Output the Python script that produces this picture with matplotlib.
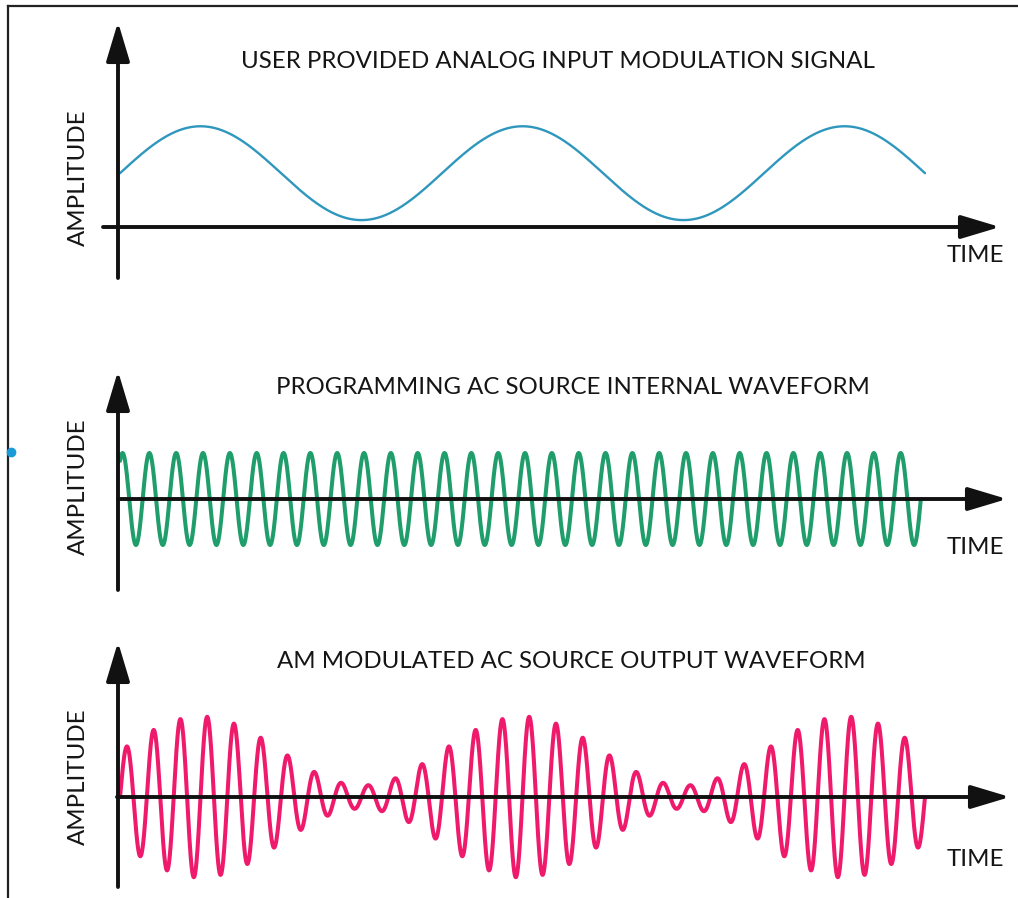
import numpy as np
import matplotlib
matplotlib.use("Agg")
import matplotlib.pyplot as plt
from matplotlib.lines import Line2D

# ---- chart data ----
panel_titles = ["USER PROVIDED ANALOG INPUT MODULATION SIGNAL",
                "PROGRAMMING AC SOURCE INTERNAL WAVEFORM",
                "AM MODULATED AC SOURCE OUTPUT WAVEFORM"]
y_label = "AMPLITUDE"
x_label = "TIME"
line_colors = ["#2f97bd", "#1f9e6c", "#ef1a6c"]

mod_cycles = 2.5          # modulation periods shown
carrier_per_mod = 12      # carrier cycles per modulation period
mod_amplitude = 1.02      # in carrier-amplitude units
mod_offset = 1.17         # DC offset of the modulation signal
carrier_amplitude = 1.0
carrier_phase_deg = 56    # programmed waveform starts near a crest
am_index = 0.75           # modulation depth of the output

# ---- layout (pixels of the 1018x898 picture) ----
W, H = 1018, 898
X0, PX_T, PX_A = 120, 322, 46       # time origin, px per mod period, px per amplitude unit
panels = [
    dict(top=10, bot=290, ax_y=227, hx0=103, hx1=1000, vy1=22, vy0=278, tx=558, ty=61, tl=256, yl=178),
    dict(top=360, bot=600, ax_y=499, hx0=118, hx1=1007, vy1=371, vy0=590, tx=573, ty=387, tl=548, yl=487),
    dict(top=630, bot=896, ax_y=797, hx0=117, hx1=1010, vy1=642, vy0=887, tx=571, ty=662, tl=860, yl=777),
]

plt.rcParams["font.family"] = ["Lato", "DejaVu Sans"]
fig = plt.figure(figsize=(W / 100, H / 100), dpi=100)
fig.patch.set_facecolor("white")

t = np.linspace(0, mod_cycles, 8000)
modulation = mod_offset + mod_amplitude * np.sin(2 * np.pi * t)
ph = np.deg2rad(carrier_phase_deg)
t2 = t[t <= mod_cycles - carrier_phase_deg / 360 / carrier_per_mod]
carrier = carrier_amplitude * np.sin(2 * np.pi * carrier_per_mod * t2 + ph)
am_out = carrier_amplitude * (1 + am_index * np.sin(2 * np.pi * t)) * np.sin(2 * np.pi * carrier_per_mod * t)

series = [(t, modulation, 1.7), (t2, carrier, 2.9), (t, am_out, 2.9)]

def px_x(px):
    return (px - X0) / PX_T

for i, p in enumerate(panels):
    ax = fig.add_axes([0, 1 - p["bot"] / H, 1, (p["bot"] - p["top"]) / H])
    ax.set_xlim(px_x(0), px_x(W))
    ax.set_ylim((p["ax_y"] - p["bot"]) / PX_A, (p["ax_y"] - p["top"]) / PX_A)
    ax.axis("off")

    xs, ys, lw = series[i]
    ax.plot(xs, ys, color=line_colors[i], lw=lw, solid_capstyle="round", zorder=2)

    arrow = dict(arrowstyle="-|>,head_length=1.2,head_width=0.36", mutation_scale=20,
                 lw=2.8, color="#111111", shrinkA=0, shrinkB=0)
    ax.annotate("", xy=(px_x(p["hx1"]), 0), xytext=(px_x(p["hx0"]), 0),
                arrowprops=arrow, zorder=3)
    ax.annotate("", xy=(px_x(118), (p["ax_y"] - p["vy1"]) / PX_A),
                xytext=(px_x(118), (p["ax_y"] - p["vy0"]) / PX_A),
                arrowprops=arrow, zorder=3)

    fig.text(p["tx"] / W, 1 - p["ty"] / H, panel_titles[i], ha="center", va="center",
             fontsize=17.3, color="#151515")
    fig.text(975 / W, 1 - p["tl"] / H, x_label, ha="center", va="center",
             fontsize=17.3, color="#151515")
    fig.text(78 / W, 1 - p["yl"] / H, y_label, ha="center", va="center",
             rotation=90, fontsize=17.3, color="#151515")

# page frame and the small blue mark at the left edge
fig.add_artist(Line2D([8 / W, 8 / W], [0, 1 - 6 / H], transform=fig.transFigure,
                      color="#222222", lw=1.6))
fig.add_artist(Line2D([8 / W, 1], [1 - 6 / H, 1 - 6 / H], transform=fig.transFigure,
                      color="#222222", lw=1.6))
fig.add_artist(Line2D([11 / W], [1 - 452 / H], transform=fig.transFigure, marker="o",
                      markersize=6, color="#1a9ad6", lw=0))

fig.savefig("out.png", dpi=100, facecolor="white")
